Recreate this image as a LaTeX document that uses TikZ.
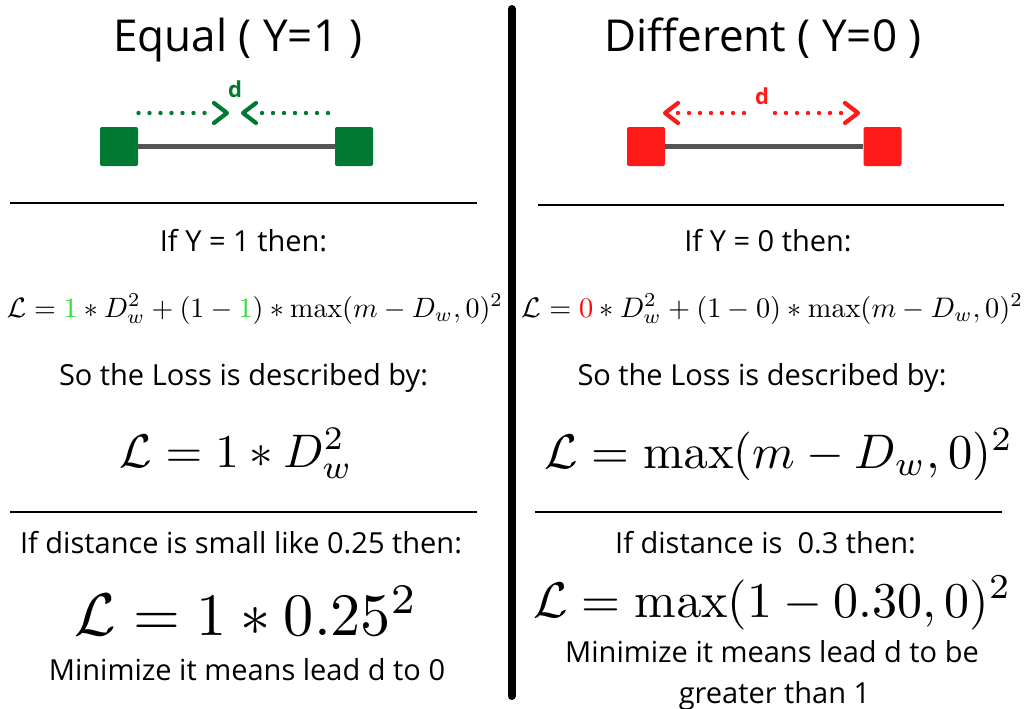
\documentclass[tikz,border=0pt]{standalone}
\usepackage{amsmath}
\usepackage{graphicx}
\usepackage[no-math]{fontspec}
\setmainfont{Open Sans}
\usetikzlibrary{arrows.meta}
\definecolor{iconGreen}{RGB}{0,122,51}
\definecolor{iconRed}{RGB}{255,26,26}
\definecolor{barGray}{RGB}{85,85,85}
\definecolor{mathGreen}{RGB}{40,225,40}
\definecolor{mathRed}{RGB}{255,0,0}
\begin{document}
\begin{tikzpicture}[x=1pt,y=-1pt,
  titletxt/.style={anchor=base, inner sep=0pt, font=\fontsize{44}{52}\selectfont},
  bodytxt/.style={anchor=base, inner sep=0pt, font=\fontsize{29}{35}\selectfont},
  mathbox/.style={anchor=base, inner sep=0pt},
  dlabel/.style={anchor=base, inner sep=0pt, font=\bfseries\fontsize{22}{26}\selectfont},
  sqbox/.style={minimum width=38pt, minimum height=39pt, inner sep=0pt, rounded corners=2pt},
  bar/.style={barGray, line width=5.5pt},
  rule/.style={black, line width=1.5pt},
  dots/.style={line width=4.4pt, line cap=round, dash pattern=on 0pt off 11pt},
  chev/.style={line width=4.2pt, line cap=round, line join=round},
]
\useasboundingbox (0,0) rectangle (1026,709);

% vertical divider
\coordinate (vTop) at (511.5,9);
\coordinate (vBot) at (511.5,696);
\draw[line width=8pt, line cap=round] (vTop) -- (vBot);

% titles
\node[titletxt] (tL) at (238,52) {Equal ( Y=1 )};
\node[titletxt] (tR) at (763,52) {Different ( Y=0 )};

% ----- green icon -----
\node[sqbox, fill=iconGreen] (gA) at (119,146.5) {};
\node[sqbox, fill=iconGreen] (gB) at (354,146.5) {};
\draw[bar] (gA.east) -- (gB.west);
\coordinate (gd1) at (138.5,113);
\coordinate (gd2) at (205,113);
\coordinate (gt1) at (227,113);
\coordinate (gd3) at (262,113);
\coordinate (gd4) at (328.5,113);
\coordinate (gt2) at (243,113);
\draw[iconGreen, dots] (gd1) -- (gd2);
\draw[iconGreen, dots] (gd3) -- (gd4);
\draw[iconGreen, chev] ([shift={(-13,-10)}]gt1) -- (gt1) -- ([shift={(-13,10)}]gt1);
\draw[iconGreen, chev] ([shift={(13,-10)}]gt2) -- (gt2) -- ([shift={(13,10)}]gt2);
\node[dlabel, text=iconGreen] (gdl) at (235,97) {d};

% ----- red icon -----
\node[sqbox, fill=iconRed] (rA) at (646,146.5) {};
\node[sqbox, fill=iconRed] (rB) at (882.5,146.5) {};
\draw[bar] (rA.east) -- (rB.west);
\coordinate (rt1) at (665,113);
\coordinate (rd1) at (678,113);
\coordinate (rd2) at (747,113);
\coordinate (rd3) at (775,113);
\coordinate (rd4) at (845,113);
\coordinate (rt2) at (858,113);
\draw[iconRed, dots] (rd1) -- (rd2);
\draw[iconRed, dots] (rd3) -- (rd4);
\draw[iconRed, chev] ([shift={(13,-10)}]rt1) -- (rt1) -- ([shift={(13,10)}]rt1);
\draw[iconRed, chev] ([shift={(-13,-10)}]rt2) -- (rt2) -- ([shift={(-13,10)}]rt2);
\node[dlabel, text=iconRed] (rdl) at (762,105) {d};

% horizontal rules
\coordinate (h1a) at (10,203);  \coordinate (h1b) at (477,203);
\coordinate (h2a) at (538,205); \coordinate (h2b) at (1004,205);
\coordinate (h3a) at (10,512);  \coordinate (h3b) at (477,512);
\coordinate (h4a) at (535,512); \coordinate (h4b) at (1002,512);
\draw[rule] (h1a) -- (h1b);
\draw[rule] (h2a) -- (h2b);
\draw[rule] (h3a) -- (h3b);
\draw[rule] (h4a) -- (h4b);

% ----- left column -----
\node[bodytxt] (l1) at (243.5,251) {If Y = 1 then:};
\node[mathbox] (lf1) at (255,317) {\resizebox{496pt}{!}{$\mathcal{L} = \textcolor{mathGreen}{1} * D_w^2 + (1-\textcolor{mathGreen}{1}) * \max(m - D_w, 0)^2$}};
\node[bodytxt] (l2) at (243.5,385) {So the Loss is described by:};
\node[mathbox] (lf2) at (236.5,467) {\resizebox{233pt}{!}{$\mathcal{L} = 1 * D_w^2$}};
\node[bodytxt] (l3) at (241,553) {If distance is small like 0.25 then:};
\node[mathbox] (lf3) at (246.5,635) {\resizebox{343pt}{!}{$\mathcal{L} = 1 * 0.25^2$}};
\node[bodytxt] (l4) at (247,680) {Minimize it means lead d to 0};

% ----- right column -----
\node[bodytxt] (r1) at (768,251) {If Y = 0 then:};
\node[mathbox] (rf1) at (772.5,317) {\resizebox{501pt}{!}{$\mathcal{L} = \textcolor{mathRed}{0} * D_w^2 + (1-0) * \max(m - D_w, 0)^2$}};
\node[bodytxt] (r2) at (762,385) {So the Loss is described by:};
\node[mathbox] (rf2) at (779,468) {\resizebox{468pt}{!}{$\mathcal{L} = \max(m - D_w, 0)^2$}};
\node[bodytxt] (r3) at (765.5,553) {If distance is \ 0.3 then:};
\node[mathbox] (rf3) at (772.5,617) {\resizebox{478pt}{!}{$\mathcal{L} = \max(1 - 0.30, 0)^2$}};
\node[bodytxt] (r4) at (772,662) {Minimize it means lead d to be};
\node[bodytxt] (r5) at (774.5,703) {greater than 1};
\end{tikzpicture}
\end{document}
